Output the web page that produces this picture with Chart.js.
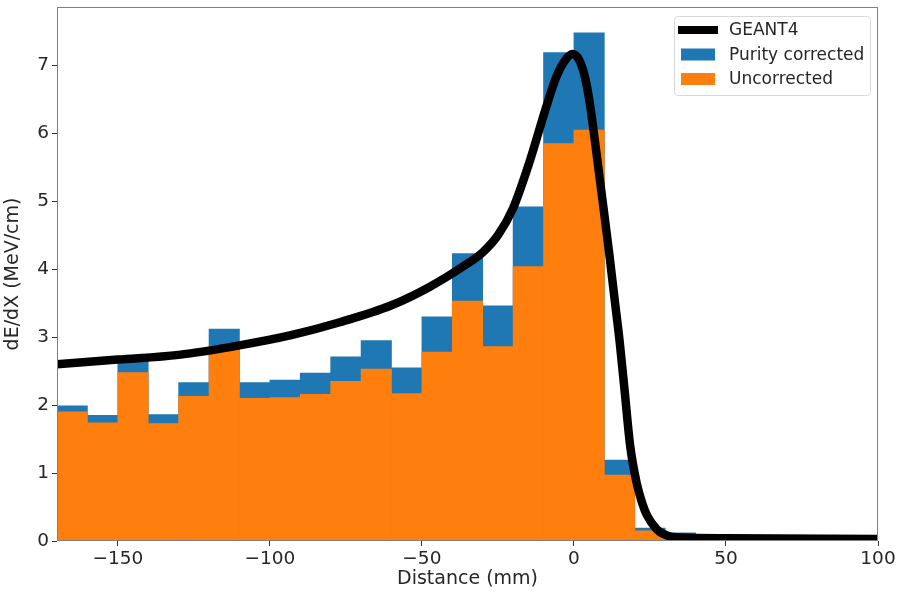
<!DOCTYPE html>
<html>
<head>
<meta charset="utf-8">
<script src="https://cdn.jsdelivr.net/npm/chart.js@4"></script>
<style>
  body { margin: 0; background: #fff; }
  #wrap { width: 900px; height: 593px; }
</style>
</head>
<body>
<div id="wrap"><canvas id="myChart"></canvas></div>
<script>
// Bin centres (10 mm bins)
const binCenters = [-165, -155, -145, -135, -125, -115, -105, -95, -85, -75, -65,
                    -55, -45, -35, -25, -15, -5, 5, 15, 25, 35];
const purityCorrected = [1.99, 1.85, 2.65, 1.86, 2.33, 3.12, 2.33, 2.37, 2.47, 2.71, 2.95,
                         2.55, 3.30, 4.23, 3.46, 4.92, 7.19, 7.48, 1.19, 0.19, 0.12];
const uncorrected = [1.90, 1.74, 2.48, 1.73, 2.13, 2.87, 2.10, 2.11, 2.16, 2.35, 2.53,
                     2.17, 2.78, 3.53, 2.86, 4.04, 5.85, 6.05, 0.97, 0.15, 0.08];

// GEANT4 curve
const geantX = [-170, -150, -130, -110, -93, -77, -60, -47.5, -36.5, -30, -25, -20, -14.6,
                -9.1, -5.8, -3, -0.5, 1.5, 3.5, 5.2, 7.3, 9.5, 11.7, 13.4, 15, 16.7, 18.5,
                20.7, 22.5, 24, 27.3, 30.6, 35, 50, 100];
const geantY = [2.60, 2.67, 2.74, 2.88, 3.03, 3.22, 3.47, 3.74, 4.04, 4.25, 4.50, 4.90, 5.58,
                6.39, 6.83, 7.07, 7.17, 7.10, 6.85, 6.45, 5.75, 4.98, 4.20, 3.55, 2.95, 2.20, 1.40,
                0.84, 0.55, 0.38, 0.17, 0.08, 0.05, 0.04, 0.03];

const xTicks = [-150, -100, -50, 0, 50, 100];
const yTicks = [0, 1, 2, 3, 4, 5, 6, 7];

const textColor = '#262626';
const fontFamily = 'DejaVu Sans';

function toPoints(xs, ys) {
    return xs.map((x, i) => ({ x: x, y: ys[i] }));
}

// Draw the frame and the in-plot legend
const framePlugin = {
    id: 'frame',
    afterDraw(chart) {
        const ctx = chart.ctx;
        const a = chart.chartArea;
        ctx.save();
        ctx.strokeStyle = '#808080';
        ctx.lineWidth = 1;
        ctx.strokeRect(a.left + 0.5, a.top + 0.5, a.right - a.left - 1, a.bottom - a.top - 1);

        // legend box
        const bx = 674, by = 16, bw = 196, bh = 79;
        ctx.fillStyle = 'rgba(255,255,255,0.8)';
        ctx.strokeStyle = '#d8d8d8';
        ctx.beginPath();
        ctx.roundRect(bx + 0.5, by + 0.5, bw, bh, 3);
        ctx.fill();
        ctx.stroke();

        const ds = chart.data.datasets;
        ctx.font = '17px ' + fontFamily;
        ctx.textBaseline = 'middle';
        ds.forEach((d, i) => {
            const cy = 30 + i * 24.5;
            if (d.type === 'line') {
                ctx.strokeStyle = d.borderColor;
                ctx.lineWidth = 8;
                ctx.beginPath();
                ctx.moveTo(678, cy);
                ctx.lineTo(718, cy);
                ctx.stroke();
            } else {
                ctx.fillStyle = d.backgroundColor;
                ctx.fillRect(681, cy - 6, 34, 12);
            }
            ctx.fillStyle = textColor;
            ctx.fillText(d.label, 729, cy + 1);
        });
        ctx.restore();
    }
};

const ctx = document.getElementById('myChart').getContext('2d');
const chart = new Chart(ctx, {
    data: {
        datasets: [{
            type: 'line',
            label: 'GEANT4',
            data: toPoints(geantX, geantY),
            borderColor: '#000000',
            borderWidth: 8.5,
            pointRadius: 0,
            cubicInterpolationMode: 'monotone',
            order: 0
        }, {
            type: 'bar',
            label: 'Purity corrected',
            data: toPoints(binCenters, purityCorrected),
            backgroundColor: '#1f77b4',
            barPercentage: 1,
            categoryPercentage: 1,
            grouped: false,
            order: 2
        }, {
            type: 'bar',
            label: 'Uncorrected',
            data: toPoints(binCenters, uncorrected),
            backgroundColor: '#ff7f0e',
            barPercentage: 1,
            categoryPercentage: 1,
            grouped: false,
            order: 1
        }]
    },
    options: {
        responsive: true,
        maintainAspectRatio: false,
        animation: false,
        layout: { padding: { top: 7, right: 22, left: 0, bottom: 0 } },
        plugins: {
            legend: { display: false },
            tooltip: { enabled: false }
        },
        scales: {
            x: {
                type: 'linear',
                min: -170,
                max: 100,
                offset: false,
                afterBuildTicks: (scale) => { scale.ticks = xTicks.map(v => ({ value: v })); },
                afterFit: (scale) => { scale.height = 52; },
                grid: { offset: false, drawOnChartArea: false, drawTicks: true, tickLength: 5, color: '#333' },
                border: { display: false },
                ticks: {
                    color: textColor,
                    font: { family: fontFamily, size: 18.5 },
                    padding: 2,
                    maxRotation: 0,
                    callback: (v) => String(v).replace('-', '\u2212')
                },
                title: {
                    display: true,
                    text: 'Distance (mm)',
                    color: textColor,
                    font: { family: fontFamily, size: 19 },
                    padding: { top: 0, bottom: 3 }
                }
            },
            y: {
                min: 0,
                max: 7.86,
                afterBuildTicks: (scale) => { scale.ticks = yTicks.map(v => ({ value: v })); },
                afterFit: (scale) => {
                    scale.width = 57;
                    scale.paddingTop = 0;
                    scale.paddingBottom = 0;
                },
                grid: { drawOnChartArea: false, drawTicks: true, tickLength: 5, color: '#333' },
                border: { display: false },
                ticks: {
                    color: textColor,
                    font: { family: fontFamily, size: 18.5 },
                    padding: 3
                },
                title: {
                    display: true,
                    text: 'dE/dX (MeV/cm)',
                    color: textColor,
                    font: { family: fontFamily, size: 19 },
                    padding: { top: 2, bottom: 0 }
                }
            }
        }
    },
    plugins: [framePlugin]
});
</script>
</body>
</html>
